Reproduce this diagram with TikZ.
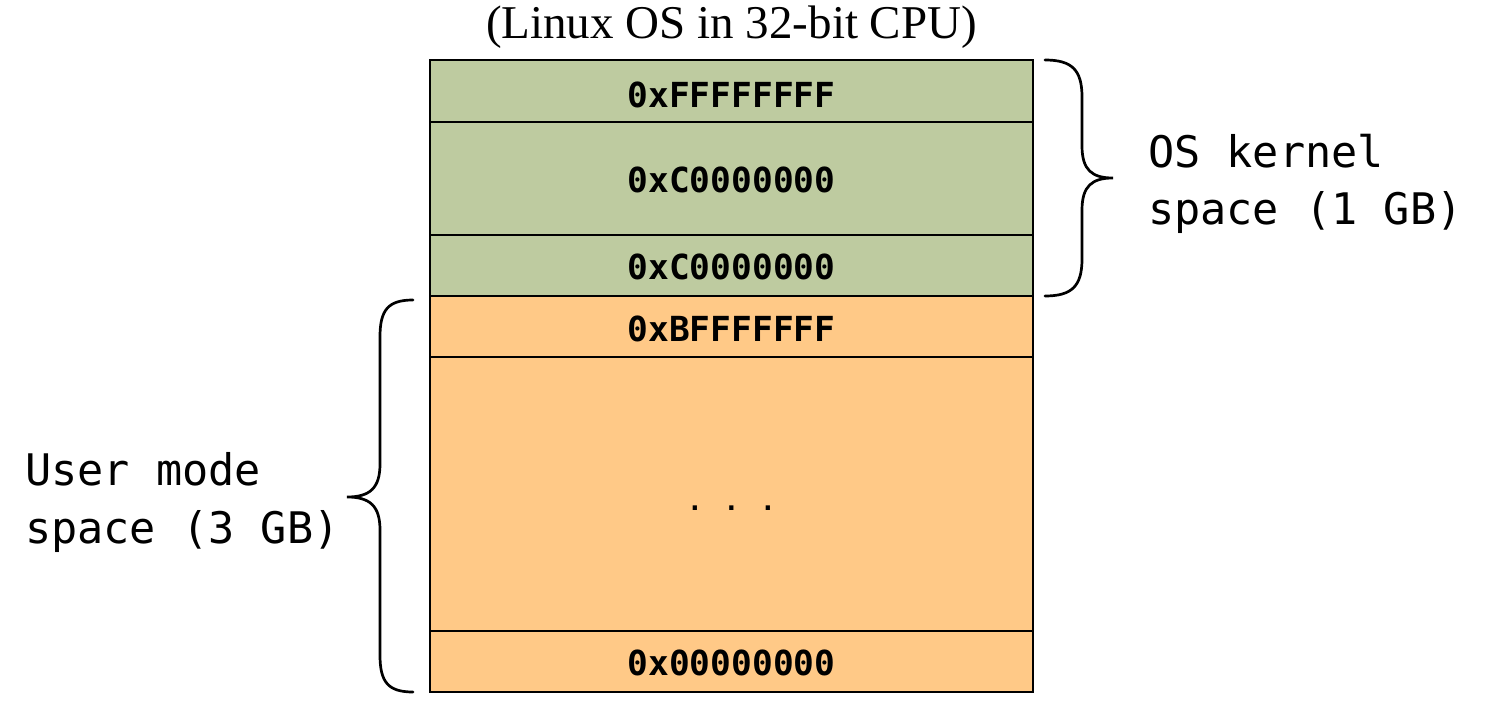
\documentclass[tikz,border=0pt]{standalone}
\usepackage{fontspec}
\setmainfont{Liberation Serif}
\newfontfamily\addrfont{DejaVu Sans Mono}
\usetikzlibrary{positioning}
\definecolor{kernelgreen}{RGB}{190,203,160}
\definecolor{userorange}{RGB}{255,201,135}

\tikzset{
  addr/.style={font=\addrfont\bfseries\fontsize{34.5}{34.5}\selectfont, anchor=base, inner sep=0pt},
  sidelabel/.style={font=\addrfont\fontsize{43.5}{58}\selectfont, align=left, anchor=base west, inner sep=0pt},
  bracepath/.style={line width=2.7pt, line cap=round}
}

\begin{document}
\begin{tikzpicture}[x=1pt,y=-1pt]
\useasboundingbox (0,0) rectangle (1485,714);
\node[anchor=base, inner sep=0pt, font=\fontsize{47}{47}\selectfont] (title) at (731.5,39) {(Linux OS in 32-bit CPU)};

% memory map
\filldraw[fill=kernelgreen, line width=1.5pt] (430,60) rectangle (1033,296);
\filldraw[fill=userorange, line width=1.5pt] (430,296) rectangle (1033,692);
\foreach \y in {122,235,357,631} {
  \draw[line width=1.5pt] (430,\y) -- (1033,\y);
}
\node[addr] (ffff) at (731.5,108) {0xFFFFFFFF};
\node[addr] (c000a) at (731.5,193) {0xC0000000};
\node[addr] (c000b) at (731.5,279) {0xC0000000};
\node[addr] (bfff) at (731.5,341) {0xBFFFFFFF};
\node[addr, font=\addrfont\bfseries\fontsize{26}{26}\selectfont] (dots) at (731.5,510) {. . .};
\node[addr] (zero) at (731.5,675) {0x00000000};

% braces
\draw[bracepath] (1045,60) .. controls (1072,60) and (1082,70) .. (1082,97) -- (1082,146)
  .. controls (1082,170) and (1092,178) .. (1113,178)
  .. controls (1092,178) and (1082,186) .. (1082,210) -- (1082,259)
  .. controls (1082,286) and (1072,296) .. (1045,296);
\draw[bracepath] (413,300) .. controls (388,300) and (380,310) .. (380,337) -- (380,464)
  .. controls (380,488) and (370,497) .. (347,497)
  .. controls (370,497) and (380,506) .. (380,530) -- (380,655)
  .. controls (380,682) and (388,692) .. (413,692);
\node[sidelabel] (kernel) at (1148,225) {OS kernel\\space (1 GB)};
\node[sidelabel] (user) at (25,543) {User mode\\space (3 GB)};
\end{tikzpicture}
\end{document}
